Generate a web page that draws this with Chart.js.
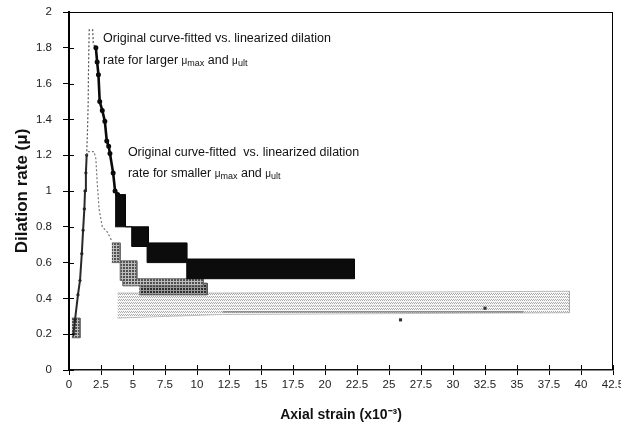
<!DOCTYPE html>
<html><head><meta charset="utf-8">
<script src="https://cdn.jsdelivr.net/npm/chart.js@4.4.1/dist/chart.umd.min.js"></script>
<style>html,body{margin:0;padding:0;background:#fff;}</style>
</head><body>
<canvas id="c" width="621" height="439"></canvas>
<script>
// ---- tick labels ----
const xTickLabels = ['0','2.5','5','7.5','10','12.5','15','17.5','20','22.5','25','27.5','30','32.5','35','37.5','40','42.5'];
const yTickLabels = ['0','0.2','0.4','0.6','0.8','1','1.2','1.4','1.6','1.8','2'];

// ---- series (axial strain x10^-3, dilation rate) ----
const sharedRiseX = [0.35,0.47,0.7,0.86,1.0,1.1,1.2,1.25,1.32,1.38];
const sharedRiseY = [0.2,0.28,0.42,0.5,0.65,0.78,0.9,1.0,1.1,1.2];

const largerRiseX = [1.38,1.45,1.5,1.52,1.55,1.58,1.85,1.9,2.1];
const largerRiseY = [1.2,1.35,1.5,1.65,1.8,1.9,1.9,1.82,1.8];

const largerCurveX = [2.1,2.2,2.3,2.4,2.6,2.8,2.95,3.1,3.2,3.45,3.6,3.8];
const largerCurveY = [1.8,1.72,1.65,1.5,1.45,1.39,1.28,1.25,1.21,1.1,1.0,0.98];

const smallerCurveX = [1.38,1.45,1.95,2.1,2.2,2.35,2.6,3.0,3.35];
const smallerCurveY = [1.2,1.22,1.22,1.18,1.05,0.9,0.8,0.77,0.72];

// linearized steps: each value holds from its x to the next x
const largerStepTopX = [3.6,4.4,6.2,9.2,22.3];
const largerStepTopY = [0.98,0.8,0.71,0.62,0.62];
const largerStepLowX = [3.6,4.9,6.1,9.2,22.3];
const largerStepLowY = [0.8,0.69,0.6,0.51,0.51];

const smallerStepTopX = [3.35,4.0,5.3,10.5];
const smallerStepTopY = [0.71,0.61,0.51,0.51];
const smallerStepLowX = [3.35,4.0,4.2,10.5];
const smallerStepLowY = [0.6,0.5,0.47,0.47];

const smallerBlockX = [5.5,10.8];
const smallerBlockTopY = [0.485,0.485];
const smallerBlockLowY = [0.42,0.42];

const startBlockX = [0.22,0.86];
const startBlockTopY = [0.29,0.29];
const startBlockLowY = [0.18,0.18];

const plateauX = [3.8,12,39.1];
const plateauTopY = [0.43,0.43,0.44];
const plateauLowY = [0.29,0.31,0.32];

const plateauLineX = [12,35.5];
const plateauLineY = [0.325,0.325];

const markerX = [25.9,32.5];
const markerY = [0.28,0.345];

// ---- helpers ----
function pts(xs, ys){ return xs.map((x,i)=>({x:x, y:ys[i]})); }
function steps(xs, ys){
  const out = [];
  for (let i = 0; i < xs.length - 1; i++){ out.push({x:xs[i], y:ys[i]}); out.push({x:xs[i+1], y:ys[i]}); }
  out.push({x:xs[xs.length-1], y:ys[ys.length-1]});
  return out;
}
function band(top, low){ return top.concat(low.slice().reverse()); }
function pattern(w, h, bg, fg, cells){
  const c = document.createElement('canvas'); c.width = w; c.height = h;
  const g = c.getContext('2d');
  g.fillStyle = bg; g.fillRect(0,0,w,h);
  g.fillStyle = fg; cells.forEach(p=>g.fillRect(p[0],p[1],1,1));
  return g.createPattern(c,'repeat');
}
const lightDots = pattern(4,3,'#f7f7f7','#acacac',[[0,0],[2,0],[1,2],[3,2]]);
const midChecker = pattern(3,3,'#505050','#bcbcbc',[[2,0],[2,1],[2,2],[0,2],[1,2]]);
const darkChecker = pattern(3,3,'#2c2c2c','#9a9a9a',[[2,0],[2,1],[2,2],[0,2],[1,2]]);

function line(data, color, width, dash, extra){
  return Object.assign({data:data, borderColor:color, backgroundColor:color, borderWidth:width,
    borderDash:dash||[], pointRadius:0, tension:0, fill:false}, extra||{});
}
function shape(data, color, fillStyle){
  return {data:data, borderColor:color, borderWidth:1, backgroundColor:fillStyle, fill:'shape',
    pointRadius:0, tension:0};
}

const datasets = [
  {data: pts(markerX, markerY), showLine:false, pointStyle:'rect', pointRadius:2.2,
   pointBackgroundColor:'#333', pointBorderColor:'#333', borderWidth:0},
  line(pts(largerCurveX, largerCurveY), '#0a0a0a', 2.6, [], {pointRadius:1.2, pointBackgroundColor:'#000'}),
  line(pts(largerRiseX, largerRiseY), '#555', 1.2, [2,2]),
  line(pts(sharedRiseX, sharedRiseY), '#2a2a2a', 2, [], {pointRadius:1.5, pointStyle:'crossRot', pointBorderColor:'#222'}),
  line(pts(smallerCurveX, smallerCurveY), '#777', 1.2, [2,2]),
  shape(band(steps(largerStepTopX, largerStepTopY), steps(largerStepLowX, largerStepLowY)), '#080808', '#0c0c0c'),
  shape(band(steps(smallerStepTopX, smallerStepTopY), steps(smallerStepLowX, smallerStepLowY)), '#6a6a6a', midChecker),
  shape(band(pts(smallerBlockX, smallerBlockTopY), pts(smallerBlockX, smallerBlockLowY)), '#555', darkChecker),
  shape(band(pts(startBlockX, startBlockTopY), pts(startBlockX, startBlockLowY)), '#666', midChecker),
  line(pts(plateauLineX, plateauLineY), '#7a7a7a', 1.2),
  shape(band(pts(plateauX, plateauTopY), pts(plateauX, plateauLowY)), 'rgba(170,170,170,0.7)', lightDots)
];

function drawRich(ctx, x, y, parts){
  parts.forEach(p=>{
    ctx.font = p[1] + 'px "Liberation Sans", Arial, sans-serif';
    ctx.fillText(p[0], x, y + (p[2]||0));
    x += ctx.measureText(p[0]).width;
  });
}

const decor = {
  id:'decor',
  afterDraw(chart){
    const {ctx, chartArea:a, scales:{x, y}} = chart;
    ctx.save();
    ctx.strokeStyle = '#000';
    ctx.lineWidth = 1;
    ctx.beginPath();
    ctx.moveTo(a.left, a.top + 0.5); ctx.lineTo(a.right, a.top + 0.5);
    ctx.moveTo(a.right - 0.5, a.top); ctx.lineTo(a.right - 0.5, a.bottom);
    ctx.stroke();
    ctx.beginPath();
    y.ticks.forEach(t=>{ const py = Math.round(y.getPixelForValue(t.value)) + 0.5; ctx.moveTo(a.left, py); ctx.lineTo(a.left + 5, py); });
    x.ticks.forEach(t=>{ const px = Math.round(x.getPixelForValue(t.value)) + 0.5; ctx.moveTo(px, a.bottom); ctx.lineTo(px, a.bottom - 5); });
    ctx.stroke();
    ctx.fillStyle = '#111';
    ctx.textBaseline = 'middle';
    ctx.textAlign = 'left';
    const fs = 12.5, ss = 9;
    let tx = x.getPixelForValue(2.66);
    drawRich(ctx, tx, y.getPixelForValue(1.85), [['Original curve-fitted vs. linearized dilation', fs]]);
    drawRich(ctx, tx, y.getPixelForValue(1.73), [['rate for larger ', fs], ['\u03bc', 10, 1], ['max', ss, 3], [' and ', fs], ['\u03bc', 10, 1], ['ult', ss, 3]]);
    tx = x.getPixelForValue(4.6);
    drawRich(ctx, tx, y.getPixelForValue(1.215), [['Original curve-fitted  vs. linearized dilation', fs]]);
    drawRich(ctx, tx, y.getPixelForValue(1.10), [['rate for smaller ', fs], ['\u03bc', 10, 1], ['max', ss, 3], [' and ', fs], ['\u03bc', 10, 1], ['ult', ss, 3]]);
    ctx.restore();
  }
};

const tickFont = {family:'"Liberation Sans", Arial, sans-serif', size:11.5};
new Chart(document.getElementById('c'), {
  type:'line',
  data:{datasets:datasets},
  plugins:[decor],
  options:{
    responsive:false, animation:false, events:[],
    layout:{padding:{top:12, right:8, left:0, bottom:0}},
    plugins:{legend:{display:false}, tooltip:{enabled:false}},
    elements:{line:{borderJoinStyle:'miter'}},
    scales:{
      x:{type:'linear', min:0, max:42.5,
        afterFit(s){ s.height = 69; s.paddingLeft = 0; s.paddingRight = 0; s.paddingTop = 0; s.paddingBottom = 0; },
        ticks:{stepSize:2.5, autoSkip:false, maxRotation:0, padding:3, color:'#222', font:tickFont,
          callback:(v,i)=>xTickLabels[i]},
        grid:{drawOnChartArea:false, tickLength:5, color:'#000', lineWidth:1},
        border:{color:'#111', width:1.5},
        title:{display:true, text:'Axial strain (x10\u207b\u00b3)', color:'#111',
          font:{family:'"Liberation Sans", Arial, sans-serif', size:14, weight:'bold'}, padding:{top:0, bottom:15}}
      },
      y:{type:'linear', min:0, max:2,
        afterFit(s){ s.width = 69; s.paddingTop = 0; s.paddingBottom = 0; s.paddingLeft = 0; s.paddingRight = 0; },
        ticks:{stepSize:0.2, padding:11, color:'#222', font:tickFont, callback:(v,i)=>yTickLabels[i]},
        grid:{drawOnChartArea:false, tickLength:6, color:'#000', lineWidth:1},
        border:{color:'#000', width:2},
        title:{display:true, text:'Dilation rate (\u03bc)', color:'#111',
          font:{family:'"Liberation Sans", Arial, sans-serif', size:17, weight:'bold'}, padding:{top:12, bottom:0}}
      }
    }
  }
});
</script>
</body></html>
